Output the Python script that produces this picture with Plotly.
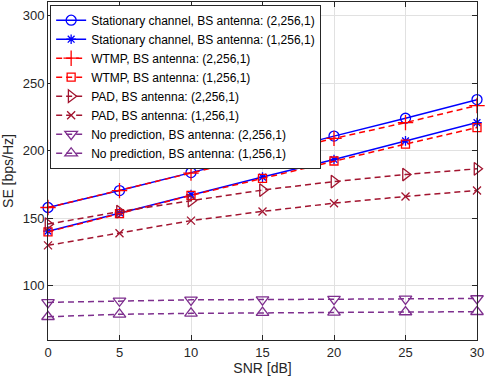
import plotly.graph_objects as go

snr = [0, 5, 10, 15, 20, 25, 30]
stat_2 = [158.0, 170.5, 183.8, 197.4, 210.8, 224.0, 237.8]
stat_1 = [140.5, 154.0, 167.5, 180.5, 193.5, 207.3, 220.8]
wtmp_2 = [158.0, 170.5, 183.5, 196.5, 209.1, 220.8, 233.4]
wtmp_1 = [140.0, 153.5, 167.0, 179.5, 192.4, 204.9, 217.1]
pad_2 = [145.7, 155.0, 163.0, 170.9, 177.2, 182.4, 186.6]
pad_1 = [130.0, 139.0, 148.3, 155.1, 161.2, 166.2, 170.6]
nop_2 = [87.8, 89.0, 89.7, 89.9, 90.2, 90.4, 90.7]
nop_1 = [77.2, 79.0, 79.7, 80.2, 80.4, 80.7, 80.9]

names = [
    "Stationary channel, BS antenna: (2,256,1)",
    "Stationary channel, BS antenna: (1,256,1)",
    "WTMP, BS antenna: (2,256,1)",
    "WTMP, BS antenna: (1,256,1)",
    "PAD, BS antenna: (2,256,1)",
    "PAD, BS antenna: (1,256,1)",
    "No prediction, BS antenna: (2,256,1)",
    "No prediction, BS antenna: (1,256,1)",
]

BLUE = "rgb(0,0,255)"
RED = "rgb(255,0,0)"
DRED = "rgb(162,20,47)"
PURP = "rgb(126,47,142)"

series = [
    (stat_2, BLUE, "solid", "circle-open", 10),
    (stat_1, BLUE, "solid", "asterisk-open", 8),
    (wtmp_2, RED, "dash", "cross-thin-open", 11),
    (wtmp_1, RED, "dash", "square-open", 8),
    (pad_2, DRED, "dash", "triangle-right-open", 11),
    (pad_1, DRED, "dash", "x-thin-open", 8),
    (nop_2, PURP, "dash", "triangle-down-open", 11),
    (nop_1, PURP, "dash", "triangle-up-open", 11),
]

FONT = "Liberation Sans, Arial, sans-serif"
DARK = "rgb(38,38,38)"

fig = go.Figure()
for (vals, col, dash, sym, sz), nm in zip(series, names):
    fig.add_trace(go.Scatter(
        x=snr, y=vals, name=nm, mode="lines+markers", cliponaxis=False,
        line=dict(color=col, width=1.5, dash="6px,4px" if dash == "dash" else "solid"),
        marker=dict(symbol=sym, size=sz, color=col, line=dict(color=col, width=1.3)),
    ))

axis_common = dict(
    showline=True, linecolor=DARK, linewidth=1, mirror="ticks",
    ticks="inside", ticklen=5, tickcolor=DARK,
    showgrid=True, gridcolor="rgb(225,225,225)", gridwidth=1,
    zeroline=False, automargin=False,
    tickfont=dict(family=FONT, size=13, color=DARK),
    title_font=dict(family=FONT, size=14, color=DARK),
)

fig.update_xaxes(range=[0, 30], tickvals=[0, 5, 10, 15, 20, 25, 30],
                 title_text="SNR [dB]", title_standoff=1, **axis_common)
fig.update_yaxes(range=[60, 310], tickvals=[100, 150, 200, 250, 300],
                 title_text="SE [bps/Hz]", title_standoff=5, **axis_common)

fig.update_layout(
    width=485, height=382,
    margin=dict(l=48, r=8, t=2, b=42),
    plot_bgcolor="white", paper_bgcolor="white",
    font=dict(family=FONT, color=DARK),
    legend=dict(
        x=0.005, y=0.992, xanchor="left", yanchor="top",
        bgcolor="white", bordercolor=DARK, borderwidth=1,
        font=dict(size=12, color="black"),
        tracegroupgap=0, itemwidth=30,
    ),
    showlegend=True,
)

fig.write_html("out.html", config={"displayModeBar": False},
               post_script="document.body.style.margin='0';")
